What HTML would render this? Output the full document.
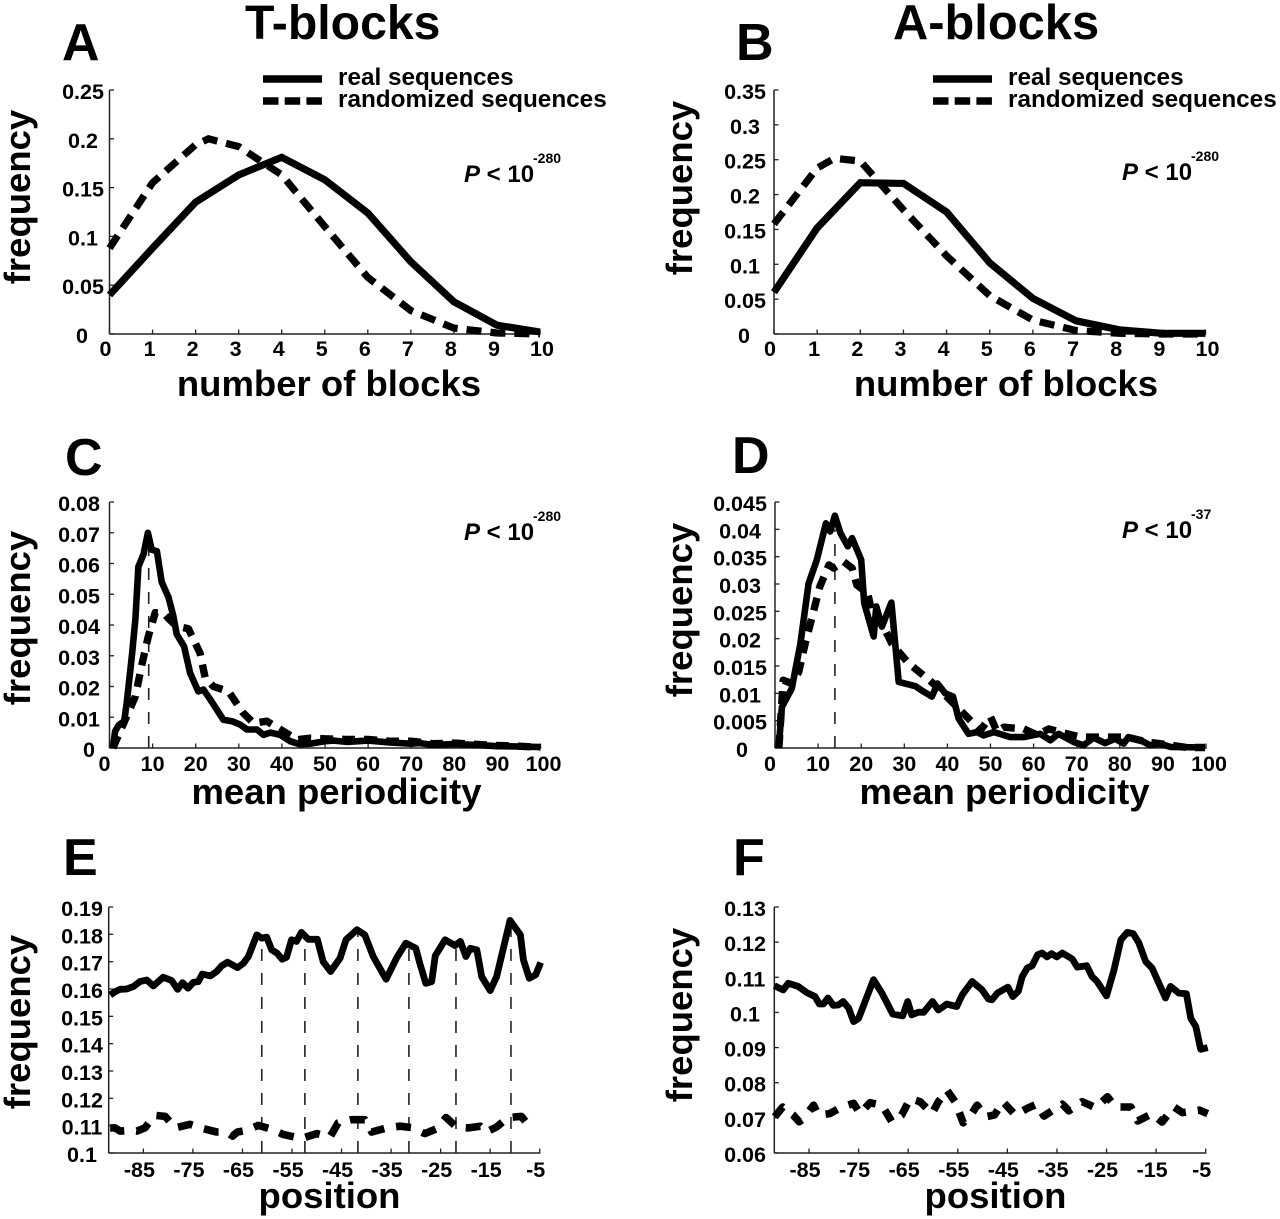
<!DOCTYPE html>
<html lang="en">
<head>
<meta charset="utf-8">
<title>T-blocks and A-blocks frequency charts</title>
<style>
html,body{margin:0;padding:0;background:#fff;}
svg{display:block;}
text{font-family:"Liberation Sans",Arial,sans-serif;font-weight:bold;fill:#000;}
.title{font-size:48.2px;}
.letter{font-size:52px;}
.axt{font-size:36.5px;}
.tick{font-size:21.5px;text-anchor:middle;}
.leg{font-size:24.3px;}
.pv{font-size:24px;}
.pv-exp{font-size:14px;}
</style>
</head>
<body>
<svg id="figure" width="1280" height="1219" viewBox="0 0 1280 1219" xmlns="http://www.w3.org/2000/svg">
  <rect width="1280" height="1219" fill="#fff"/>
  <text class="title" x="245" y="39">T-blocks</text>
  <text class="title" x="893" y="39" style="font-size:48.8px">A-blocks</text>

  <text class="letter" x="62" y="60">A</text>
  <text class="letter" x="736" y="60">B</text>
  <text class="letter" x="65" y="475">C</text>
  <text class="letter" x="732" y="473">D</text>
  <text class="letter" x="63" y="875">E</text>
  <text class="letter" x="733" y="875">F</text>

  <text class="axt" transform="translate(30,197) rotate(-90)" text-anchor="middle">frequency</text>
  <text class="axt" transform="translate(692,188) rotate(-90)" text-anchor="middle">frequency</text>
  <text class="axt" transform="translate(30,618) rotate(-90)" text-anchor="middle">frequency</text>
  <text class="axt" transform="translate(692,610) rotate(-90)" text-anchor="middle">frequency</text>
  <text class="axt" transform="translate(30,1022) rotate(-90)" text-anchor="middle">frequency</text>
  <text class="axt" transform="translate(692,1015) rotate(-90)" text-anchor="middle">frequency</text>

  <text class="axt" x="329" y="396" text-anchor="middle">number of blocks</text>
  <text class="axt" x="1006" y="396" text-anchor="middle">number of blocks</text>
  <text class="axt" x="336.5" y="804" text-anchor="middle">mean periodicity</text>
  <text class="axt" x="1004.5" y="804" text-anchor="middle">mean periodicity</text>
  <text class="axt" x="329.5" y="1208" text-anchor="middle">position</text>
  <text class="axt" x="995.5" y="1208" text-anchor="middle">position</text>

  <g>
    <line x1="263" y1="79" x2="322" y2="79" stroke="#000" stroke-width="7.5"/>
    <line x1="263" y1="101" x2="322" y2="101" stroke="#000" stroke-width="7.5" stroke-dasharray="15.5 6.2"/>
    <text class="leg" x="338" y="85">real sequences</text>
    <text class="leg" x="338" y="107">randomized sequences</text>
  </g>
  <g>
    <line x1="933" y1="79" x2="992" y2="79" stroke="#000" stroke-width="7.5"/>
    <line x1="933" y1="101" x2="992" y2="101" stroke="#000" stroke-width="7.5" stroke-dasharray="15.5 6.2"/>
    <text class="leg" x="1008" y="85">real sequences</text>
    <text class="leg" x="1008" y="107">randomized sequences</text>
  </g>

  <g><text class="pv" x="464" y="182"><tspan font-style="italic">P</tspan> &lt; 10</text><text class="pv-exp" x="533" y="163">-280</text></g>
  <g><text class="pv" x="1122" y="180"><tspan font-style="italic">P</tspan> &lt; 10</text><text class="pv-exp" x="1191" y="161">-280</text></g>
  <g><text class="pv" x="464" y="540"><tspan font-style="italic">P</tspan> &lt; 10</text><text class="pv-exp" x="533" y="521">-280</text></g>
  <g><text class="pv" x="1122" y="538"><tspan font-style="italic">P</tspan> &lt; 10</text><text class="pv-exp" x="1191" y="519">-37</text></g>
</svg>

<script>
// ---------- Tick labels ----------
const countTicks = [0,1,2,3,4,5,6,7,8,9,10];
const periodTicks = [0,10,20,30,40,50,60,70,80,90,100];
const positionTicks = [-85,-75,-65,-55,-45,-35,-25,-15,-5];
const yTicksA = ["0","0.05","0.1","0.15","0.2","0.25"];
const yTicksB = ["0","0.05","0.1","0.15","0.2","0.25","0.3","0.35"];
const yTicksC = ["0","0.01","0.02","0.03","0.04","0.05","0.06","0.07","0.08"];
const yTicksD = ["0","0.005","0.01","0.015","0.02","0.025","0.03","0.035","0.04","0.045"];
const yTicksE = ["0.1","0.11","0.12","0.13","0.14","0.15","0.16","0.17","0.18","0.19"];
const yTicksF = ["0.06","0.07","0.08","0.09","0.1","0.11","0.12","0.13"];

// ---------- Panel A ----------
const blocksA = [0,1,2,3,4,5,6,7,8,9,10];
const realA = [0.04,0.088,0.135,0.163,0.181,0.158,0.124,0.074,0.033,0.009,0.002];
const blocksRandomA = [0,1,2,2.3,3,4,5,6,7,8,9,10];
const randomA = [0.088,0.155,0.194,0.2,0.192,0.163,0.11,0.058,0.024,0.006,0.001,0];

// ---------- Panel B ----------
const blocksB = [0,1,2,3,4,5,6,7,8,9,10];
const realB = [0.06,0.152,0.217,0.216,0.175,0.102,0.051,0.019,0.006,0.001,0.001];
const blocksRandomB = [0,1,1.4,2,3,4,5,6,7,8,9,10];
const randomB = [0.158,0.238,0.252,0.248,0.178,0.112,0.055,0.02,0.005,0.001,0,0];

// ---------- Panel C ----------
const periodRealC = [0.8,1.3,2.1,3.4,4,5.2,6,6.7,7.9,8.9,9.8,11,12.1,13.7,14.8,15.6,17.3,18.7,20.6,21.8,23.4,24.9,26.4,28.4,30.3,31.9,34.2,35.7,37.3,39.6,41.9,44.2,46.5,50,52,55,60,65,70,72,75,80,85,90,95,100];
const realC = [0,0.0054,0.0074,0.0087,0.0146,0.03,0.042,0.059,0.063,0.07,0.0645,0.064,0.054,0.049,0.043,0.037,0.033,0.0244,0.0184,0.019,0.0157,0.0125,0.0092,0.0087,0.0076,0.006,0.006,0.0043,0.005,0.0043,0.0022,0.0012,0.0014,0.0022,0.0024,0.002,0.0024,0.0018,0.0014,0.0016,0.001,0.0013,0.001,0.0006,0.0005,0.0003];
const periodRandomC = [0.8,4,6,7.5,9,10.6,12.5,14,15.6,18.3,21,22.2,24.1,27.6,31,33.4,36.5,40.4,43.5,46.5,50,55,60,65,70,75,80,85,90,95,100];
const randomC = [0,0.0103,0.0168,0.027,0.0363,0.044,0.0439,0.0417,0.0396,0.0388,0.0309,0.0228,0.02,0.0184,0.0114,0.0081,0.0087,0.0054,0.0027,0.0032,0.003,0.0028,0.0028,0.0022,0.0022,0.0014,0.0016,0.0012,0.0008,0.0006,0.0002];
const dropC = [9.1];
const dropTopC = [0.066];

// ---------- Panel D ----------
const periodRealD = [0.85,1.6,3.9,5.9,7.8,9.7,11.8,12.8,13.9,15.2,16.9,17.9,20,20.7,22.9,23.5,24.8,26,27,28.7,32.6,34.5,36.4,37.7,39.5,41.3,42.6,44.9,46.9,48.4,50.8,54.6,57.7,61.5,63.9,65.8,69.3,71.6,73.9,76.6,78.9,80.9,82,85.1,87,89.4,91.7,99.8];
const realD = [0,0.0075,0.0109,0.0191,0.0301,0.0344,0.0411,0.0396,0.0425,0.0393,0.0369,0.0384,0.0344,0.0265,0.0204,0.0259,0.0222,0.0246,0.0266,0.0121,0.0113,0.0103,0.0094,0.0118,0.01,0.0094,0.0054,0.0026,0.0029,0.0023,0.0029,0.002,0.002,0.0026,0.0014,0.0026,0.0011,0.0005,0.0019,0.0009,0.0017,0.0008,0.002,0.0013,0.0005,0.0008,0.0002,0.0001];
const periodRandomD = [0.9,1.9,3.9,5.5,7,8.6,10.4,12.5,13.6,15.9,17.9,19,21.5,22.9,24.8,27.1,31,34.9,37.6,40.7,44.9,47.6,50,51.5,53.1,57.7,60.8,63.5,67.8,70.9,75.5,81.7,86.3,90.2,95.6,99.8];
const randomD = [0,0.0124,0.0118,0.0139,0.0191,0.024,0.0295,0.0335,0.0329,0.0341,0.0329,0.0298,0.0283,0.0234,0.0228,0.0191,0.0155,0.013,0.0112,0.0087,0.0054,0.0032,0.0057,0.003,0.0038,0.0035,0.0024,0.0035,0.0026,0.002,0.002,0.002,0.0011,0.0007,0.0001,0.0001];
const dropD = [13.9];
const dropTopD = [0.04];

// ---------- Panel E ----------
const posRealE = [-91.7,-90.7,-89.7,-88.4,-87,-85.7,-84.3,-83,-81,-79.3,-78.1,-77.1,-76,-74.9,-73.9,-73.1,-71.5,-70.2,-69.2,-68,-66,-64.8,-63.8,-62.1,-61.1,-60.1,-59.1,-58,-57,-56.1,-55.1,-54.1,-53.1,-51.7,-49.9,-48.7,-47.2,-45.3,-44.1,-41.9,-40.3,-38.6,-36,-33.9,-32,-30,-29.2,-28,-26.8,-26.1,-24.1,-22.1,-21,-19.9,-19,-17.7,-16.7,-15,-13.7,-11,-8.9,-8.3,-7.1,-5.8,-4.8];
const realE = [0.1578,0.159,0.1599,0.16,0.1609,0.1627,0.1633,0.1611,0.1643,0.1631,0.1599,0.1623,0.1603,0.1625,0.1627,0.1655,0.1648,0.1664,0.1685,0.1698,0.1678,0.1694,0.1719,0.1798,0.1786,0.179,0.1743,0.1731,0.1709,0.1716,0.178,0.1774,0.1807,0.1782,0.1782,0.17,0.1664,0.1713,0.178,0.1817,0.1798,0.1719,0.1636,0.1713,0.1768,0.1749,0.1694,0.1621,0.1627,0.1721,0.178,0.1759,0.1774,0.1719,0.1749,0.1743,0.1645,0.1594,0.1645,0.1851,0.1798,0.1707,0.1639,0.1652,0.1697];
const posRandomE = [-91.7,-90.7,-89.7,-87.4,-86.3,-84.7,-82.7,-80.6,-78.6,-75.6,-72.9,-70.2,-68.2,-67,-66,-64.1,-61.8,-59.1,-56.8,-53.1,-50,-47.3,-45.7,-43,-40.3,-38.9,-35.9,-33.2,-30.8,-28.2,-25.8,-23.9,-21.8,-19.4,-17,-15.8,-13.7,-11.4,-8.7,-6.9];
const randomE = [0.1092,0.1092,0.108,0.1083,0.108,0.1092,0.1138,0.1134,0.1092,0.1105,0.1089,0.1077,0.1077,0.1062,0.1077,0.1083,0.1101,0.1087,0.1068,0.1053,0.1071,0.1059,0.111,0.1122,0.1122,0.1077,0.1092,0.1098,0.1093,0.1071,0.1089,0.113,0.1095,0.1092,0.1098,0.1077,0.1095,0.113,0.1134,0.1093];
const dropE = [-61.1,-52.4,-41.7,-31.4,-21.9,-10.8];
const dropTopE = [0.178,0.178,0.18,0.176,0.175,0.183];

// ---------- Panel F ----------
const posRealF = [-92,-90.2,-89.2,-87.2,-85.5,-83.8,-82.9,-82.1,-81.2,-80.1,-79.1,-78.1,-77,-76,-75,-72,-70.3,-68.1,-66.1,-65.1,-64.3,-62.9,-61.9,-60.1,-58.9,-57.2,-56.5,-55.2,-54.1,-52.1,-50.1,-48.8,-48.1,-47,-44.9,-43.9,-42.8,-42,-41,-40,-38.9,-38,-37,-36.1,-35,-33.9,-31.9,-30.9,-29,-27.9,-26.9,-25,-23.5,-22.1,-20.8,-19.6,-18.5,-17.1,-15.8,-13.1,-12.1,-10.4,-8.9,-8,-7,-6,-4.6];
const realF = [0.1076,0.1064,0.1083,0.1074,0.1057,0.1045,0.1024,0.1024,0.1041,0.102,0.1021,0.1031,0.1012,0.0974,0.0983,0.1093,0.1055,0.0995,0.099,0.1031,0.0993,0.1001,0.1,0.1031,0.1007,0.1024,0.1021,0.1017,0.105,0.1088,0.1064,0.1038,0.1036,0.1055,0.1072,0.1045,0.106,0.1102,0.1126,0.1133,0.1164,0.1169,0.1158,0.1167,0.1158,0.1169,0.1152,0.1129,0.1133,0.1102,0.1088,0.1047,0.1121,0.1207,0.1228,0.1224,0.1198,0.1145,0.1126,0.1041,0.1074,0.1055,0.1053,0.0983,0.096,0.0895,0.09];
const posRandomF = [-91.9,-90.3,-88.2,-87,-86.1,-84.1,-83.1,-80.8,-78.4,-76,-74.7,-72.7,-70.3,-68.3,-66.3,-64.6,-62.6,-60.2,-58.9,-57.2,-55.5,-53.9,-52.5,-51.1,-49.4,-47.6,-45.9,-43.4,-41,-39.1,-37.6,-35.3,-33.9,-32.6,-29.9,-27.2,-24.8,-23.2,-20.1,-18.7,-15.8,-13.8,-11.4,-9.7,-6.3,-4.6];
const randomF = [0.0703,0.0731,0.0708,0.0689,0.0698,0.0736,0.0708,0.0712,0.0731,0.0741,0.0712,0.0743,0.0736,0.0689,0.0708,0.0755,0.0746,0.0712,0.0746,0.0779,0.0745,0.0686,0.0705,0.0736,0.0703,0.0708,0.0746,0.0708,0.0727,0.0739,0.0705,0.0727,0.0739,0.072,0.0746,0.0729,0.076,0.0731,0.0731,0.0691,0.0712,0.0688,0.0731,0.0715,0.0722,0.0712];

// ---------- Drawing ----------
const NS = 'http://www.w3.org/2000/svg';
const fig = document.getElementById('figure');

function scale(d0, d1, r0, r1) {
  return function (v) { return r0 + (v - d0) * (r1 - r0) / (d1 - d0); };
}

function svgEl(tag, attrs, parent) {
  const el = document.createElementNS(NS, tag);
  for (const k in attrs) el.setAttribute(k, attrs[k]);
  parent.appendChild(el);
  return el;
}

function drawCurve(parent, xs, ys, sx, sy, name, width, dash, join) {
  const pts = xs.map(function (x, i) { return sx(x).toFixed(1) + ',' + sy(ys[i]).toFixed(1); }).join(' ');
  const el = svgEl('polyline', { points: pts, fill: 'none', stroke: '#000', 'stroke-width': width, 'stroke-linejoin': join, 'stroke-linecap': 'butt' }, parent);
  if (dash) el.setAttribute('stroke-dasharray', dash);
  
  
}

function drawPanel(p) {
  const g = svgEl('g', {}, fig);
  
  
  const sx = scale(p.xd[0], p.xd[1], p.left, p.right);
  const yMin = parseFloat(p.yTicks[0]);
  const yMax = parseFloat(p.yTicks[p.yTicks.length - 1]);
  const sy = scale(yMin, yMax, p.bottom, p.top);

  // reference drop lines
  (p.drops || []).forEach(function (d, i) {
    const ln = svgEl('line', { x1: sx(d), x2: sx(d), y1: p.bottom, y2: sy(p.dropTops[i]), stroke: '#222', 'stroke-width': 1.6, 'stroke-dasharray': '12 12' }, g);
    
    
  });

  // axes
  const yAxis = svgEl('line', { x1: p.left, x2: p.left, y1: p.top, y2: p.bottom, stroke: '#222', 'stroke-width': 1.5 }, g);
  
  
  const xAxis = svgEl('line', { x1: p.left, x2: p.right + 0.7, y1: p.bottom, y2: p.bottom, stroke: '#222', 'stroke-width': 1.5 }, g);
  
  

  // y ticks
  p.yTicks.forEach(function (t) {
    const y = sy(parseFloat(t));
    const tk = svgEl('line', { x1: p.left, x2: p.left + 4.5, y1: y, y2: y, stroke: '#222', 'stroke-width': 1.3 }, g);
    
    
    const isZero = parseFloat(t) === 0;
    const lb = svgEl('text', { class: 'tick', x: p.yLabelX + (isZero ? p.zeroShift : 0), y: y + 9 }, g);
    lb.textContent = t;
    
    
  });

  // x ticks
  p.xTicks.forEach(function (t, i) {
    const x = sx(t);
    const tk = svgEl('line', { x1: x, x2: x, y1: p.bottom, y2: p.bottom - 4.5, stroke: '#222', 'stroke-width': 1.3 }, g);
    
    
    let off = p.xLabelOff;
    if (p.firstOff !== undefined && i === 0) off = p.firstOff;
    if (p.lastOff !== undefined && i === p.xTicks.length - 1) off = p.lastOff;
    const lb = svgEl('text', { class: 'tick', x: x + off, y: p.xLabelY }, g);
    lb.textContent = t;
    
    
  });

  drawCurve(g, p.randomX, p.random, sx, sy, 'randomized-sequences-line-' + p.id, p.dashWidth, p.dash, p.join);
  drawCurve(g, p.realX, p.real, sx, sy, 'real-sequences-line-' + p.id, p.width, null, p.join);
}

drawPanel({ id: 'a', left: 109.5, right: 540, top: 90, bottom: 334, xd: [0, 10], yTicks: yTicksA, xTicks: countTicks, realX: blocksA, real: realA, randomX: blocksRandomA, random: randomA, yLabelX: 83, zeroShift: -1, xLabelY: 356, xLabelOff: -3, firstOff: -4, lastOff: 2, width: 7.2, dashWidth: 7.2, dash: '15 9', join: 'miter' });
drawPanel({ id: 'b', left: 774, right: 1205.5, top: 90, bottom: 334, xd: [0, 10], yTicks: yTicksB, xTicks: countTicks, realX: blocksB, real: realB, randomX: blocksRandomB, random: randomB, yLabelX: 745, zeroShift: -1, xLabelY: 356, xLabelOff: -3, firstOff: -4, lastOff: 2, width: 7.2, dashWidth: 7.2, dash: '15 9', join: 'miter' });
drawPanel({ id: 'c', left: 109.5, right: 540.5, top: 502, bottom: 748, xd: [0, 100], yTicks: yTicksC, xTicks: periodTicks, realX: periodRealC, real: realC, randomX: periodRandomC, random: randomC, drops: dropC, dropTops: dropTopC, yLabelX: 79, zeroShift: 10, xLabelY: 771, xLabelOff: 0, firstOff: -5, lastOff: 3, width: 6.6, dashWidth: 7.4, dash: '13 9', join: 'round' });
drawPanel({ id: 'd', left: 775, right: 1206, top: 502, bottom: 748, xd: [0, 100], yTicks: yTicksD, xTicks: periodTicks, realX: periodRealD, real: realD, randomX: periodRandomD, random: randomD, drops: dropD, dropTops: dropTopD, yLabelX: 740, zeroShift: 2, xLabelY: 771, xLabelOff: 0, firstOff: -5, lastOff: 3, width: 6.6, dashWidth: 7.4, dash: '13 9', join: 'round' });
drawPanel({ id: 'e', left: 108.7, right: 539.7, top: 907, bottom: 1153, xd: [-92, -5], yTicks: yTicksE, xTicks: positionTicks, realX: posRealE, real: realE, randomX: posRandomE, random: randomE, drops: dropE, dropTops: dropTopE, yLabelX: 82, zeroShift: 0, xLabelY: 1177, xLabelOff: -4, width: 6.8, dashWidth: 7.6, dash: '15 12', join: 'round' });
drawPanel({ id: 'f', left: 774.3, right: 1205.7, top: 907, bottom: 1153, xd: [-92, -5], yTicks: yTicksF, xTicks: positionTicks, realX: posRealF, real: realF, randomX: posRandomF, random: randomF, yLabelX: 745, zeroShift: 0, xLabelY: 1177, xLabelOff: -4, width: 6.8, dashWidth: 7.6, dash: '13 12', join: 'round' });
</script>
</body>
</html>
